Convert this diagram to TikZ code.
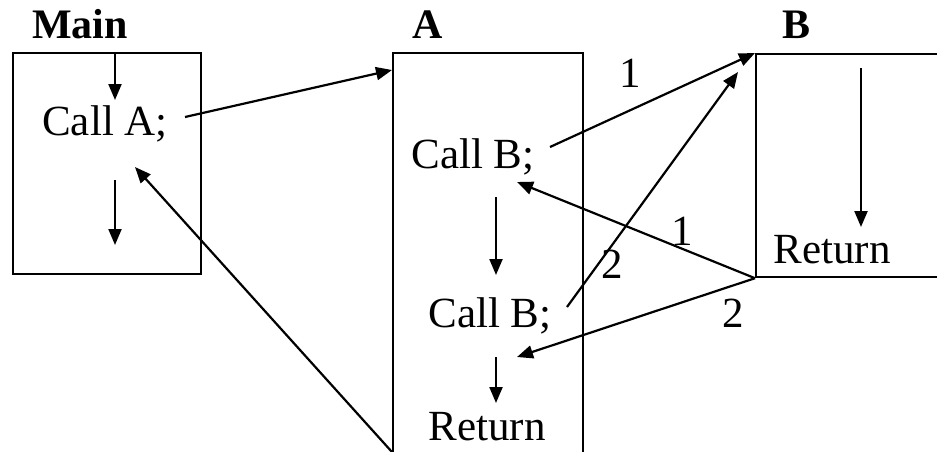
\documentclass[tikz,border=0pt]{standalone}
\usepackage{fontspec}
\setmainfont{Liberation Serif}
\usetikzlibrary{arrows.meta}
\begin{document}
\begin{tikzpicture}[x=1pt,y=-1pt,
  box/.style={draw, line width=2.2pt, inner sep=0pt, anchor=north west},
  txt/.style={font=\fontsize{43}{50}\selectfont, inner sep=0pt, anchor=base},
  ttl/.style={font=\fontsize{42}{50}\selectfont\bfseries, inner sep=0pt, anchor=base},
  flow/.style={line width=2.2pt, -{Triangle[length=16pt,width=13pt]}}]
\useasboundingbox (0,0) rectangle (937,451);
\clip (0,0) rectangle (937,451);
% boxes
\node[box, minimum width=188pt, minimum height=221pt] (mainbox) at (12,52) {};
\node[box, minimum width=190pt, minimum height=460pt] (boxA) at (392,52) {};
\node[box, minimum width=300pt, minimum height=223pt] (boxB) at (755,53) {};
% titles
\node[ttl] (tmain) at (80,38) {Main};
\node[ttl] (tA) at (428,38) {A};
\node[ttl] (tB) at (796,38) {B};
% texts
\node[txt] (callA) at (105,135) {Call A;};
\node[txt] (callB1) at (473,168) {Call B;};
\node[txt] (callB2) at (490,327) {Call B;};
\node[txt] (retA) at (487,440) {Return};
\node[txt] (retB) at (832,263) {Return};
% labels
\node[txt] (l1a) at (630,87) {1};
\node[txt] (l2a) at (612,278) {2};
\node[txt] (l1b) at (682,245) {1};
\node[txt] (l2b) at (733,327) {2};
% coordinates
\coordinate (m1s) at (115,52);
\coordinate (m1e) at (115,100);
\coordinate (m2s) at (115,180);
\coordinate (m2e) at (115,245);
\coordinate (caout) at (185,117);
\coordinate (ain) at (392,70);
\coordinate (a1s) at (496,197);
\coordinate (a1e) at (496,275);
\coordinate (a2s) at (496,357);
\coordinate (a2e) at (496,403);
\coordinate (b1out) at (550,147);
\coordinate (b2out) at (567,307);
\coordinate (b2in) at (738,72);
\coordinate (r1in) at (517,182);
\coordinate (r2in) at (517,357);
\coordinate (aret) at (392,452);
\coordinate (mret) at (135,167);
\coordinate (bs) at (861,68);
\coordinate (be) at (861,227);
% connectors
\draw[flow] (m1s) -- (m1e);
\draw[flow] (m2s) -- (m2e);
\draw[flow] (caout) -- (ain);
\draw[flow] (a1s) -- (a1e);
\draw[flow] (a2s) -- (a2e);
\draw[flow] (b1out) -- (boxB.north west);
\draw[flow] (b2out) -- (b2in);
\draw[flow] (boxB.south west) -- (r1in);
\draw[flow] (boxB.south west) -- (r2in);
\draw[flow] (aret) -- (mret);
\draw[flow] (bs) -- (be);
\end{tikzpicture}
\end{document}
